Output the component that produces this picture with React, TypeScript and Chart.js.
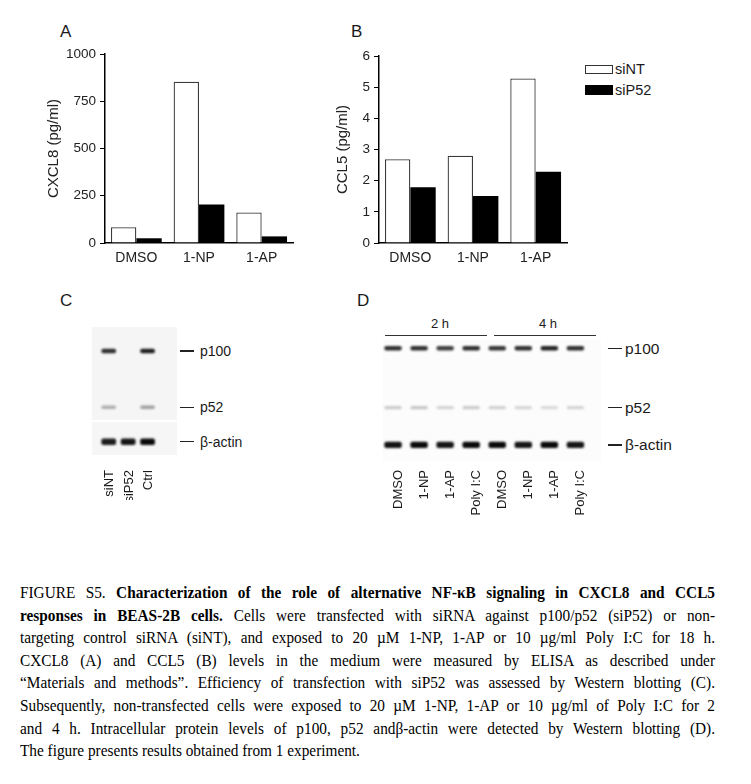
import React, { useEffect, useRef } from "react";
import { Chart, registerables } from "chart.js";
Chart.register(...registerables);

// ---------- data ----------
const treatments = ["DMSO", "1-NP", "1-AP"];
const seriesNames = ["siNT", "siP52"];
const cxcl8_siNT = [83, 853, 161];
const cxcl8_siP52 = [25, 204, 35];
const ccl5_siNT = [2.69, 2.8, 5.28];
const ccl5_siP52 = [1.79, 1.51, 2.29];
const cxcl8Ticks = [0, 250, 500, 750, 1000];
const ccl5Ticks = [0, 1, 2, 3, 4, 5, 6];

const bandNames = ["p100", "p52", "β-actin"];
const lanesC = ["siNT", "siP52", "Ctrl"];
const blotC_p100 = [0.85, 0, 0.92];
const blotC_p52 = [0.3, 0, 0.36];
const blotC_actin = [0.92, 0.95, 1.0];

const lanesD = ["DMSO", "1-NP", "1-AP", "Poly I:C", "DMSO", "1-NP", "1-AP", "Poly I:C"];
const timeGroups = ["2 h", "4 h"];
const blotD_p100 = [0.85, 0.85, 0.78, 0.85, 0.82, 0.85, 0.9, 0.85];
const blotD_p52 = [0.2, 0.22, 0.17, 0.2, 0.18, 0.16, 0.14, 0.17];
const blotD_actin = [0.97, 1, 0.95, 1, 1, 0.95, 1, 0.95];

const captionLines: { b?: string; t?: string }[] = [
  { t: "FIGURE S5. ", b: "Characterization of the role of alternative NF-κB signaling in CXCL8 and CCL5" },
  { b: "responses in BEAS-2B cells.", t: " Cells were transfected with siRNA against p100/p52 (siP52) or non-" },
  { t: "targeting control siRNA (siNT), and exposed to 20 µM 1-NP, 1-AP or 10 µg/ml Poly I:C for 18 h." },
  { t: "CXCL8 (A) and CCL5 (B) levels in the medium were measured by ELISA as described under" },
  { t: "“Materials and methods”. Efficiency of transfection with siP52 was assessed by Western blotting (C)." },
  { t: "Subsequently, non-transfected cells were exposed to 20 µM 1-NP, 1-AP or 10 µg/ml of Poly I:C for 2" },
  { t: "and 4 h. Intracellular protein levels of p100, p52 andβ-actin were detected by Western blotting (D)." },
  { t: "The figure presents results obtained from 1 experiment." },
];

const SANS = "'Liberation Sans', Arial, sans-serif";
const SERIF = "'Liberation Serif', 'Times New Roman', serif";

function barConfig(
  a: number[], b: number[], ticks: number[], title: string,
  pad: { top: number; right: number }, yWidth: number, titlePad: number
): any {
  const max = ticks[ticks.length - 1];
  return {
    type: "bar",
    data: {
      labels: treatments,
      datasets: [
        { label: seriesNames[0], data: a, backgroundColor: "#ffffff", borderColor: "#3a3a3a", borderWidth: 1.3, categoryPercentage: 0.81, barPercentage: 1 },
        { label: seriesNames[1], data: b, backgroundColor: "#000000", borderColor: "#000000", borderWidth: 0, categoryPercentage: 0.81, barPercentage: 1 },
      ],
    },
    options: {
      responsive: false,
      animation: false,
      layout: { padding: { top: pad.top, right: pad.right, left: 0, bottom: 0 } },
      plugins: { legend: { display: false }, tooltip: { enabled: false } },
      scales: {
        x: {
          offset: true,
          grid: { display: false, drawTicks: false },
          border: { display: true, color: "#000", width: 1.5 },
          ticks: { font: { family: SANS, size: 14 }, color: "#222", padding: 7 },
          afterFit: (s: any) => { s.height = 37; },
        },
        y: {
          min: 0,
          max,
          afterBuildTicks: (s: any) => { s.ticks = ticks.map((v) => ({ value: v })); },
          ticks: { font: { family: SANS, size: 13.5 }, color: "#222", padding: 4, callback: (v: any) => String(v) },
          grid: { display: true, drawOnChartArea: false, drawTicks: true, tickLength: 5, color: "#000", lineWidth: 1 },
          border: { display: true, color: "#000", width: 1.5 },
          title: { display: true, text: title, font: { family: SANS, size: 15 }, color: "#222", padding: { top: titlePad, bottom: 0 } },
          afterFit: (s: any) => { s.width = yWidth; },
        },
      },
    },
  };
}

const blurPlugin = {
  id: "blotBlur",
  beforeDatasetsDraw(chart: any) { chart.ctx.save(); chart.ctx.filter = "blur(1.2px)"; },
  afterDatasetsDraw(chart: any) { chart.ctx.restore(); },
};

function blotConfig(
  lanes: string[], rows: { pos: number; h: number; vals: number[] }[],
  widthPct: number, axisH: number, labelPad: number, labelOffset: number
): any {
  return {
    type: "bar",
    data: {
      labels: lanes,
      datasets: rows.map((r, i) => ({
        label: bandNames[i],
        data: lanes.map(() => [r.pos - r.h / 2, r.pos + r.h / 2]),
        backgroundColor: r.vals.map((v) => `rgba(10,10,10,${v})`),
        borderWidth: 0,
        borderRadius: 2,
        borderSkipped: false,
        barPercentage: widthPct,
        categoryPercentage: 1,
        grouped: false,
      })),
    },
    plugins: [blurPlugin],
    options: {
      responsive: false,
      animation: false,
      layout: { padding: 0 },
      plugins: { legend: { display: false }, tooltip: { enabled: false } },
      scales: {
        x: {
          grid: { display: false, drawTicks: false },
          border: { display: false },
          ticks: { font: { family: SANS, size: 13 }, color: "#1a1a1a", padding: labelPad, minRotation: 90, maxRotation: 90, labelOffset, autoSkip: false },
          afterFit: (s: any) => { s.height = axisH; },
        },
        y: { display: false, min: 0, max: 1, reverse: true },
      },
    },
  };
}

function Txt(props: { x: number; y: number; size: number; children: any; center?: boolean; family?: string }) {
  const { x, y, size, children, center, family } = props;
  return (
    <div
      style={{
        position: "absolute", left: x, top: y - 0.49 * size, fontFamily: family || SANS, fontSize: size,
        lineHeight: `${size}px`, whiteSpace: "nowrap", color: "#1a1a1a",
        transform: center ? "translateX(-50%)" : undefined,
      }}
    >
      {children}
    </div>
  );
}

function Dash(props: { x: number; y: number; w: number }) {
  return <div style={{ position: "absolute", left: props.x, top: props.y - 0.75, width: props.w, height: 1.5, background: "#222" }} />;
}

export default function App() {
  const refA = useRef<HTMLCanvasElement>(null);
  const refB = useRef<HTMLCanvasElement>(null);
  const refC = useRef<HTMLCanvasElement>(null);
  const refD = useRef<HTMLCanvasElement>(null);

  useEffect(() => {
    const charts: Chart[] = [];
    charts.push(new Chart(refA.current!, barConfig(cxcl8_siNT, cxcl8_siP52, cxcl8Ticks, "CXCL8 (pg/ml)", { top: 14, right: 17 }, 65, 5)));
    charts.push(new Chart(refB.current!, barConfig(ccl5_siNT, ccl5_siP52, ccl5Ticks, "CCL5 (pg/ml)", { top: 16, right: 13 }, 49, 4)));
    charts.push(new Chart(refC.current!, blotConfig(lanesC, [
      { pos: 0.192, h: 0.034, vals: blotC_p100 },
      { pos: 0.625, h: 0.026, vals: blotC_p52 },
      { pos: 0.89, h: 0.05, vals: blotC_actin },
    ], 0.76, 44, 14, 1)));
    charts.push(new Chart(refD.current!, blotConfig(lanesD, [
      { pos: 0.066, h: 0.036, vals: blotD_p100 },
      { pos: 0.537, h: 0.026, vals: blotD_p52 },
      { pos: 0.833, h: 0.05, vals: blotD_actin },
    ], 0.67, 54, 4, 5)));
    return () => charts.forEach((c) => c.destroy());
  }, []);

  const canvasStyle = (l: number, t: number): React.CSSProperties => ({ position: "absolute", left: l, top: t });
  const capScale = 0.9;

  return (
    <div style={{ position: "absolute", left: 0, top: 0, width: 751, height: 784, background: "#fff", overflow: "hidden" }}>
      {/* panel letters */}
      <Txt x={60} y={31.5} size={17}>A</Txt>
      <Txt x={351} y={31.5} size={17}>B</Txt>
      <Txt x={60} y={300.5} size={17}>C</Txt>
      <Txt x={357} y={300.5} size={17}>D</Txt>

      <canvas ref={refA} width={270} height={240} style={canvasStyle(40, 40)} />
      <canvas ref={refB} width={250} height={240} style={canvasStyle(330, 40)} />

      {/* legend for B */}
      {seriesNames.map((n, i) => (
        <React.Fragment key={n}>
          <div style={{ position: "absolute", left: 585, top: 64.5 + i * 20.5, width: 28, height: 9.5, boxSizing: "border-box",
            background: i === 0 ? "#fff" : "#000", border: i === 0 ? "1.2px solid #333" : "none" }} />
          <Txt x={615} y={69.5 + i * 20.5} size={14.5}>{n}</Txt>
        </React.Fragment>
      ))}

      {/* blot C */}
      <div style={{ position: "absolute", left: 92, top: 327, width: 85, height: 93, background: "#f5f5f5" }} />
      <div style={{ position: "absolute", left: 92, top: 422, width: 85, height: 33, background: "#f6f6f6" }} />
      <canvas ref={refC} width={79} height={174} style={canvasStyle(98, 326)} />
      {[351, 407.3, 441.7].map((y, i) => (
        <React.Fragment key={"c" + i}>
          <Dash x={180} y={y} w={14} />
          <Txt x={200} y={y} size={14}>{bandNames[i]}</Txt>
        </React.Fragment>
      ))}

      {/* blot D */}
      {timeGroups.map((g, i) => (
        <React.Fragment key={g}>
          <Txt x={440 + i * 108} y={323} size={13} center>{g}</Txt>
          <div style={{ position: "absolute", left: 385 + i * 108.5, top: 334.5, width: 102, height: 1.2, background: "#333" }} />
        </React.Fragment>
      ))}
      <div style={{ position: "absolute", left: 383, top: 340, width: 218, height: 122, background: "#fcfcfc" }} />
      <canvas ref={refD} width={215} height={180} style={canvasStyle(380, 340)} />
      {[348.3, 407.7, 445].map((y, i) => (
        <React.Fragment key={"d" + i}>
          <Dash x={608} y={y} w={14} />
          <Txt x={625} y={y} size={15.5}>{bandNames[i]}</Txt>
        </React.Fragment>
      ))}

      {/* caption */}
      <div style={{ position: "absolute", left: 20, top: 582, width: 695 / capScale, transform: `scaleX(${capScale})`, transformOrigin: "left top",
        fontFamily: SERIF, fontSize: 17, lineHeight: "22.6px", color: "#000" }}>
        {captionLines.map((l, i) => {
          const last = i === captionLines.length - 1;
          return (
            <div key={i} style={{ textAlign: last ? "left" : "justify", textAlignLast: last ? "left" : "justify" } as any}>
              {i === 0 ? <>{l.t}<b>{l.b}</b></> : l.b ? <><b>{l.b}</b>{l.t}</> : l.t}
            </div>
          );
        })}
      </div>
    </div>
  );
}
